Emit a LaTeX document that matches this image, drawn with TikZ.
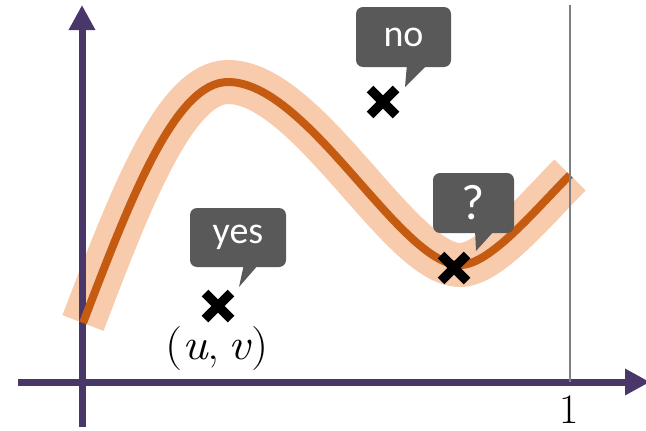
\documentclass[tikz,border=0pt]{standalone}
\usepackage{fontspec}
\newfontfamily\calib{Carlito}
\usetikzlibrary{arrows.meta}
\definecolor{axispurple}{HTML}{483768}
\definecolor{curvedark}{HTML}{C55A11}
\definecolor{curveband}{HTML}{F8CBAD}
\definecolor{bubblegray}{HTML}{595959}
\definecolor{thingray}{HTML}{7F7F7F}
\tikzset{
  axisline/.style={line width=7pt, color=axispurple, -{Triangle[length=25pt,width=25pt]}},
  bandline/.style={line width=44pt, color=curveband},
  darkline/.style={line width=8pt, color=curvedark},
  bubble/.style={fill=bubblegray, rounded corners=7pt, inner sep=0pt, text=white, font=\calib\fontsize{38}{40}\selectfont},
  xmark/.style={line width=9.5pt, color=black}
}
\begin{document}
\begin{tikzpicture}[x=1pt,y=-1pt]
\useasboundingbox (0,0) rectangle (646,431);
% curve band
\draw[bandline] (83,323) .. controls (130,200) and (175,82) .. (228,82)
  .. controls (308,82) and (400,265) .. (460,265)
  .. controls (490,265) and (535,210) .. (570,175);
% axes
\coordinate (ybot) at (82,427);
\coordinate (ytop) at (82,5);
\coordinate (xleft) at (18,382);
\coordinate (xright) at (650,382);
\draw[axisline] (ybot) -- (ytop);
\draw[axisline] (xleft) -- (xright);
% dark curve
\draw[darkline] (83,323) .. controls (130,200) and (175,82) .. (228,82)
  .. controls (308,82) and (400,265) .. (460,265)
  .. controls (490,265) and (535,210) .. (570,175);
% thin vertical line at 1
\coordinate (onetop) at (570,5);
\coordinate (onebot) at (570,382);
\draw[thingray, line width=1.5pt] (onetop) -- (onebot);
\node[anchor=base, inner sep=0pt, font=\fontsize{42}{44}\selectfont] (one) at (569,423) {1};
% crosses
\coordinate (cno) at (383,102);
\coordinate (cq) at (454,268);
\coordinate (cyes) at (218,306);
\foreach \c in {cno,cq,cyes}{
  \draw[xmark] (\c) ++(-13,-13) -- ++(26,26);
  \draw[xmark] (\c) ++(-13,13) -- ++(26,-26);
}
% (u,v)
\node[anchor=base, inner sep=0pt, font=\fontsize{44}{48}\selectfont] (uv) at (217,359) {\scalebox{1.1}[1]{(\textit{u},\,\textit{v})}};
% callouts
\node[bubble, minimum width=95pt, minimum height=60pt] (bno) at (403.5,37) {no};
\fill[bubblegray] (407,64) -- (405,87) -- (428,64) -- cycle;
\node[bubble, minimum width=81pt, minimum height=60pt, font=\calib\fontsize{50}{52}\selectfont] (bq) at (473.5,203) {?};
\fill[bubblegray] (475,230) -- (476,251) -- (495,230) -- cycle;
\node[bubble, minimum width=96pt, minimum height=59pt] (byes) at (238,237.5) {yes};
\fill[bubblegray] (244,264) -- (239,287) -- (259,264) -- cycle;
\end{tikzpicture}
\end{document}
